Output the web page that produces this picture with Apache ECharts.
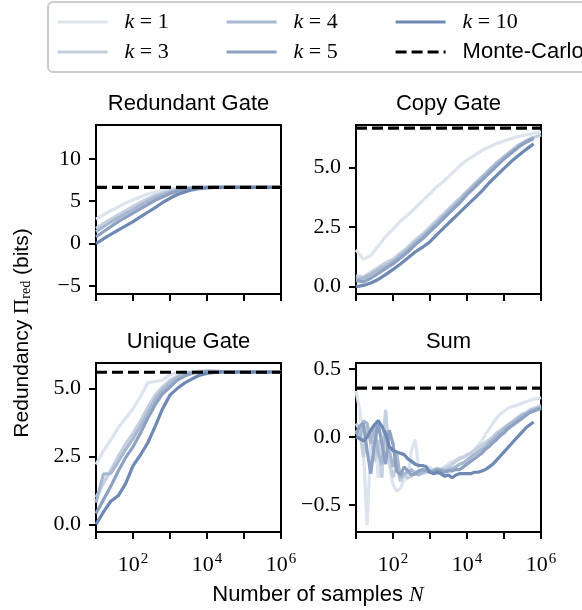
<!DOCTYPE html>
<html>
<head>
<meta charset="utf-8">
<script src="https://cdn.jsdelivr.net/npm/echarts@6/dist/echarts.min.js"></script>
<style>
  html, body { margin: 0; padding: 0; background: #fff; }
  #main { width: 582px; height: 610px; }
</style>
</head>
<body>
<div id="main"></div>
<script>
// sample sizes, as exponents of 10 (N = 10^e)
var expGate = [1.0, 1.2, 1.4, 1.6, 1.8, 2.0, 2.2, 2.4, 2.6, 2.8, 3.0, 3.2, 3.4, 3.6, 3.8, 4.0, 4.2, 4.4, 4.6, 4.8, 5.0, 5.2, 5.4, 5.6, 5.8, 6.0]
var expSum = [1.0, 1.1, 1.2, 1.3, 1.4, 1.5, 1.6, 1.7, 1.8, 1.9, 2.0, 2.1, 2.2, 2.3, 2.4, 2.5, 2.6, 2.7, 2.8, 2.9, 3.0,
  3.1, 3.2, 3.3, 3.4, 3.5, 3.6, 3.7, 3.8, 3.9, 4.0, 4.1, 4.2, 4.3, 4.4, 4.5, 4.6, 4.7, 4.8, 4.9, 5.0,
  5.1, 5.2, 5.3, 5.4, 5.5, 5.6, 5.7, 5.8, 5.9, 6.0]

var kNames = ['k = 1', 'k = 3', 'k = 4', 'k = 5', 'k = 10']
var kColors = ['#dde4ee', '#c4cfdf', '#a8b8d0', '#8da2c2', '#6e89b3']

// Redundant Gate
var redundantK1 = [2.9, 3.4, 3.9, 4.3, 4.8, 5.15, 5.5, 5.85, 6.1, 6.3, 6.45, 6.55, 6.6, 6.63, 6.64, 6.64, 6.64, 6.64, 6.64, 6.64, 6.64, 6.64, 6.64, 6.64, 6.64, 6.64]
var redundantK3 = [1.8, 2.35, 2.9, 3.4, 3.9, 4.4, 4.85, 5.3, 5.7, 6.0, 6.25, 6.45, 6.55, 6.6, 6.63, 6.64, 6.64, 6.64, 6.64, 6.64, 6.64, 6.64, 6.64, 6.64, 6.64, 6.64]
var redundantK4 = [1.4, 2.0, 2.55, 3.05, 3.55, 4.0, 4.5, 5.0, 5.45, 5.8, 6.1, 6.35, 6.5, 6.58, 6.62, 6.64, 6.64, 6.64, 6.64, 6.64, 6.64, 6.64, 6.64, 6.64, 6.64, 6.64]
var redundantK5 = [0.8, 1.4, 2.0, 2.6, 3.1, 3.6, 4.1, 4.6, 5.1, 5.5, 5.9, 6.2, 6.4, 6.55, 6.6, 6.63, 6.64, 6.64, 6.64, 6.64, 6.64, 6.64, 6.64, 6.64, 6.64, 6.64]
var redundantK10 = [0.0, 0.55, 1.1, 1.6, 2.1, 2.6, 3.15, 3.7, 4.25, 4.85, 5.35, 5.8, 6.1, 6.35, 6.5, 6.58, 6.62, 6.64, 6.64, 6.64, 6.64, 6.64, 6.64, 6.64, 6.64, 6.64]
var redundantMC = 6.64

// Copy Gate
var copyK1 = [1.54, 1.15, 1.3, 1.7, 2.1, 2.4, 2.75, 3.0, 3.3, 3.6, 3.9, 4.2, 4.45, 4.75, 5.05, 5.3, 5.5, 5.7, 5.85, 6.0, 6.1, 6.2, 6.3, 6.35, 6.42, 6.48]
var copyK3 = [0.45, 0.4, 0.6, 0.8, 1.0, 1.15, 1.4, 1.65, 1.95, 2.2, 2.5, 2.8, 3.1, 3.4, 3.7, 4.0, 4.3, 4.6, 4.9, 5.2, 5.45, 5.7, 5.95, 6.1, 6.25, 6.35]
var copyK4 = [0.3, 0.35, 0.5, 0.7, 0.85, 1.05, 1.3, 1.55, 1.85, 2.1, 2.4, 2.7, 3.0, 3.3, 3.6, 3.95, 4.25, 4.55, 4.85, 5.15, 5.4, 5.65, 5.9, 6.1, 6.25, null]
var copyK5 = [0.25, 0.2, 0.35, 0.55, 0.75, 0.95, 1.2, 1.45, 1.75, 2.0, 2.3, 2.6, 2.9, 3.2, 3.5, 3.85, 4.15, 4.45, 4.75, 5.05, 5.35, 5.6, 5.85, 6.05, 6.2, null]
var copyK10 = [0.0, 0.05, 0.15, 0.3, 0.5, 0.72, 0.95, 1.2, 1.45, 1.65, 1.88, 2.2, 2.5, 2.8, 3.1, 3.4, 3.7, 4.0, 4.35, 4.65, 4.95, 5.25, 5.5, 5.75, 5.98, null]
var copyMC = 6.64

// Unique Gate
var uniqueK1 = [2.2, 2.7, 3.1, 3.55, 3.9, 4.25, 4.7, 5.2, 5.25, 5.3, 5.5, 5.58, 5.6, 5.61, 5.62, 5.62, 5.61, 5.6, 5.6, 5.6, 5.6, 5.6, 5.6, 5.6, 5.6, 5.6]
var uniqueK3 = [1.0, 1.5, 2.0, 2.5, 2.95, 3.35, 3.8, 4.3, 4.75, 5.05, 5.3, 5.45, 5.55, 5.6, 5.62, 5.62, 5.61, 5.6, 5.6, 5.6, 5.6, 5.6, 5.6, 5.6, 5.6, 5.6]
var uniqueK4 = [0.8, 1.85, 1.87, 2.3, 2.75, 3.15, 3.6, 4.1, 4.6, 4.95, 5.2, 5.4, 5.52, 5.58, 5.61, 5.62, 5.62, 5.61, 5.6, 5.6, 5.6, 5.6, 5.6, 5.6, 5.6, 5.6]
var uniqueK5 = [0.4, 0.9, 1.4, 1.95, 2.45, 2.85, 3.35, 3.9, 4.4, 4.8, 5.05, 5.3, 5.45, 5.55, 5.6, 5.62, 5.62, 5.61, 5.6, 5.6, 5.6, 5.6, 5.6, 5.6, 5.6, 5.6]
var uniqueK10 = [0.0, 0.45, 0.85, 1.05, 1.5, 2.15, 2.55, 3.0, 3.6, 4.25, 4.75, 5.0, 5.2, 5.35, 5.48, 5.55, 5.58, 5.6, 5.6, 5.6, 5.6, 5.6, 5.6, 5.6, 5.6, 5.6]
var uniqueMC = 5.59

// Sum
var sumK1 = [0.34, 0.20, -0.10, -0.65, -0.05, 0.05, -0.30, -0.05, 0.18, -0.20, -0.35, -0.40, -0.38, -0.32, -0.30, -0.10, -0.02, -0.25, -0.26, -0.24, -0.22,
  -0.26, -0.27, -0.24, -0.22, -0.20, -0.18, -0.17, -0.15, -0.15, -0.14, -0.12, -0.09, -0.06, -0.03, 0.02, 0.06, 0.10, 0.14, 0.17, 0.19,
  0.21, 0.22, 0.23, 0.24, 0.25, 0.26, 0.27, 0.28, 0.28, 0.29]
var sumK3 = [0.10, 0.05, -0.15, 0.08, 0.02, -0.18, -0.02, -0.30, 0.20, -0.18, -0.30, -0.20, -0.33, -0.28, -0.30, -0.29, -0.26, -0.25, -0.27, -0.26, -0.25,
  -0.24, -0.23, -0.24, -0.23, -0.22, -0.20, -0.18, -0.16, -0.15, -0.13, -0.12, -0.10, -0.08, -0.06, -0.04, -0.02, 0.00, 0.03, 0.05, 0.07,
  0.09, 0.11, 0.13, 0.15, 0.17, 0.18, 0.20, 0.21, 0.22, 0.23]
var sumK4 = [0.05, -0.02, 0.12, 0.10, -0.05, 0.08, -0.12, -0.20, 0.05, -0.10, -0.22, -0.12, -0.30, -0.27, -0.26, -0.24, -0.27, -0.28, -0.26, -0.24, -0.25,
  -0.26, -0.25, -0.24, -0.25, -0.24, -0.23, -0.22, -0.20, -0.19, -0.17, -0.15, -0.13, -0.11, -0.09, -0.07, -0.04, -0.02, 0.01, 0.03, 0.06,
  0.08, 0.10, 0.12, 0.14, 0.16, 0.17, 0.19, 0.20, 0.21, 0.22]
var sumK5 = [0.02, 0.08, 0.10, -0.10, -0.27, -0.05, 0.10, -0.05, -0.20, 0.05, -0.05, -0.25, -0.28, -0.22, -0.25, -0.28, -0.27, -0.25, -0.24, -0.25, -0.26,
  -0.25, -0.24, -0.25, -0.26, -0.25, -0.25, -0.24, -0.24, -0.22, -0.20, -0.18, -0.16, -0.14, -0.12, -0.09, -0.07, -0.04, -0.02, 0.01, 0.03,
  0.06, 0.08, 0.10, 0.12, 0.14, 0.16, 0.18, 0.19, 0.20, 0.21]
var sumK10 = [0.00, -0.01, -0.03, 0.00, 0.05, 0.09, 0.12, 0.08, 0.02, -0.07, -0.10, -0.11, -0.12, -0.13, -0.16, -0.18, -0.20, -0.21, -0.21, -0.22, -0.26,
  -0.27, -0.26, -0.27, -0.29, -0.28, -0.30, -0.28, -0.27, -0.27, -0.27, -0.27, -0.26, -0.26, -0.25, -0.24, -0.22, -0.20, -0.17, -0.14, -0.11,
  -0.08, -0.05, -0.02, 0.01, 0.04, 0.07, 0.09, 0.11, null, null]
var sumMC = 0.36

var panels = [
  { title: 'Redundant Gate', exps: expGate, lines: [redundantK1, redundantK3, redundantK4, redundantK5, redundantK10], mc: redundantMC,
    min: -5.95, max: 14.0, ticks: [-5, 0, 5, 10], dec: 0 },
  { title: 'Copy Gate', exps: expGate, lines: [copyK1, copyK3, copyK4, copyK5, copyK10], mc: copyMC,
    min: -0.31, max: 6.77, ticks: [0, 2.5, 5], dec: 1 },
  { title: 'Unique Gate', exps: expGate, lines: [uniqueK1, uniqueK3, uniqueK4, uniqueK5, uniqueK10], mc: uniqueMC,
    min: -0.28, max: 5.93, ticks: [0, 2.5, 5], dec: 1 },
  { title: 'Sum', exps: expSum, lines: [sumK1, sumK3, sumK4, sumK5, sumK10], mc: sumMC,
    min: -0.70, max: 0.545, ticks: [-0.5, 0, 0.5], dec: 1 }
]

var gridPos = [
  { left: 96, top: 125 },
  { left: 356, top: 125 },
  { left: 96, top: 363 },
  { left: 356, top: 363 }
]
var gridW = 185
var gridH = 169

var serif = 'Liberation Serif'
var sans = 'Liberation Sans'

var chart = echarts.init(document.getElementById('main'))

var grids = []
var xAxes = []
var yAxes = []
var series = []
var graphics = []

panels.forEach(function (p, i) {
  grids.push({
    left: gridPos[i].left, top: gridPos[i].top, width: gridW, height: gridH,
    show: true, borderColor: '#000', borderWidth: 2, backgroundColor: 'transparent'
  })

  xAxes.push({
    type: 'log', logBase: 10, gridIndex: i, min: 10, max: 1e6,
    axisLine: { onZero: false, lineStyle: { color: '#000', width: 2 } },
    axisTick: { length: 7, lineStyle: { color: '#000', width: 2 } },
    splitLine: { show: false },
    axisLabel: {
      show: i >= 2, margin: 20, color: '#000',
      formatter: function (v) {
        var e = Math.round(Math.log10(v))
        if (e % 2 === 1) return ''
        return '{b|10}{s|' + e + '}'
      },
      rich: {
        b: { fontFamily: serif, fontSize: 22, color: '#000' },
        s: { fontFamily: serif, fontSize: 15, color: '#000', padding: [0, 0, 12, 1] }
      }
    }
  })

  yAxes.push({
    type: 'value', gridIndex: i, min: p.min, max: p.max,
    axisLine: { show: true, onZero: false, lineStyle: { color: '#000', width: 2 } },
    axisTick: { show: true, length: 7, lineStyle: { color: '#000', width: 2 }, customValues: p.ticks },
    splitLine: { show: false },
    axisLabel: {
      margin: 15, color: '#000', fontFamily: serif, fontSize: 22,
      customValues: p.ticks,
      formatter: function (v) {
        return v.toFixed(p.dec).replace('-', '\u2212')
      }
    }
  })

  p.lines.forEach(function (vals, k) {
    var data = []
    vals.forEach(function (v, j) {
      if (v !== null) data.push([Math.pow(10, p.exps[j]), v])
    })
    series.push({
      name: kNames[k], type: 'line', xAxisIndex: i, yAxisIndex: i,
      data: data, symbol: 'none', color: kColors[k],
      lineStyle: { color: kColors[k], width: 3.2 },
      z: 2 + k
    })
  })

  series.push({
    name: 'Monte-Carlo', type: 'line', xAxisIndex: i, yAxisIndex: i,
    data: [[10, p.mc], [1e6, p.mc]], symbol: 'none', color: '#000',
    lineStyle: { color: '#000', width: 3.2, type: [11, 5] },
    z: 10
  })

  // panel title
  graphics.push({
    type: 'text', x: gridPos[i].left + gridW / 2, y: gridPos[i].top - 21,
    style: { text: p.title, fontFamily: sans, fontSize: 22, fill: '#000', align: 'center', verticalAlign: 'middle' }
  })
})

// legend frame (runs past the right edge, as in the original)
graphics.push({
  type: 'rect', z: 0,
  shape: { x: 48, y: 2, width: 545, height: 70, r: 5 },
  style: { fill: '#fff', stroke: '#cccccc', lineWidth: 2 }
})

// axis titles
graphics.push({
  type: 'text', x: 22, y: 333, rotation: Math.PI / 2,
  style: {
    text: '{t|Redundancy }{p|\u03a0}{d|red}{t| (bits)}',
    align: 'center', verticalAlign: 'middle',
    rich: {
      t: { fontFamily: sans, fontSize: 21, fill: '#000' },
      p: { fontFamily: serif, fontSize: 21, fill: '#000' },
      d: { fontFamily: serif, fontSize: 14, fill: '#000', padding: [9, 0, 0, 0] }
    }
  }
})
graphics.push({
  type: 'text', x: 318, y: 595,
  style: {
    text: '{t|Number of samples }{i|N}',
    align: 'center', verticalAlign: 'middle',
    rich: {
      t: { fontFamily: sans, fontSize: 22, fill: '#000' },
      i: { fontFamily: serif, fontStyle: 'italic', fontSize: 22, fill: '#000' }
    }
  }
})

var legendText = {
  color: '#000', padding: [0, 0, 0, 12],
  rich: {
    i: { fontFamily: serif, fontStyle: 'italic', fontSize: 22, lineHeight: 26 },
    r: { fontFamily: serif, fontSize: 22, lineHeight: 26 },
    s: { fontFamily: sans, fontSize: 22, lineHeight: 26 }
  }
}
function legendFmt (name) {
  if (name === 'Monte-Carlo') return '{s|Monte-Carlo}'
  return '{i|k}{r|' + name.slice(1) + '}'
}
function makeLegend (names, left) {
  return {
    data: names, left: left, top: 11, orient: 'vertical', itemGap: 8, padding: 0,
    itemWidth: 50, itemHeight: 14, selectedMode: false,
    itemStyle: { opacity: 0, borderWidth: 0 },
    lineStyle: { width: 3.2 },
    formatter: legendFmt, textStyle: legendText
  }
}

var option = {
  animation: false,
  backgroundColor: '#fff',
  grid: grids,
  xAxis: xAxes,
  yAxis: yAxes,
  series: series,
  legend: [
    makeLegend(['k = 1', 'k = 3'], 56),
    makeLegend(['k = 4', 'k = 5'], 225),
    makeLegend(['k = 10', 'Monte-Carlo'], 394)
  ],
  graphic: graphics
}

chart.setOption(option)
</script>
</body>
</html>
